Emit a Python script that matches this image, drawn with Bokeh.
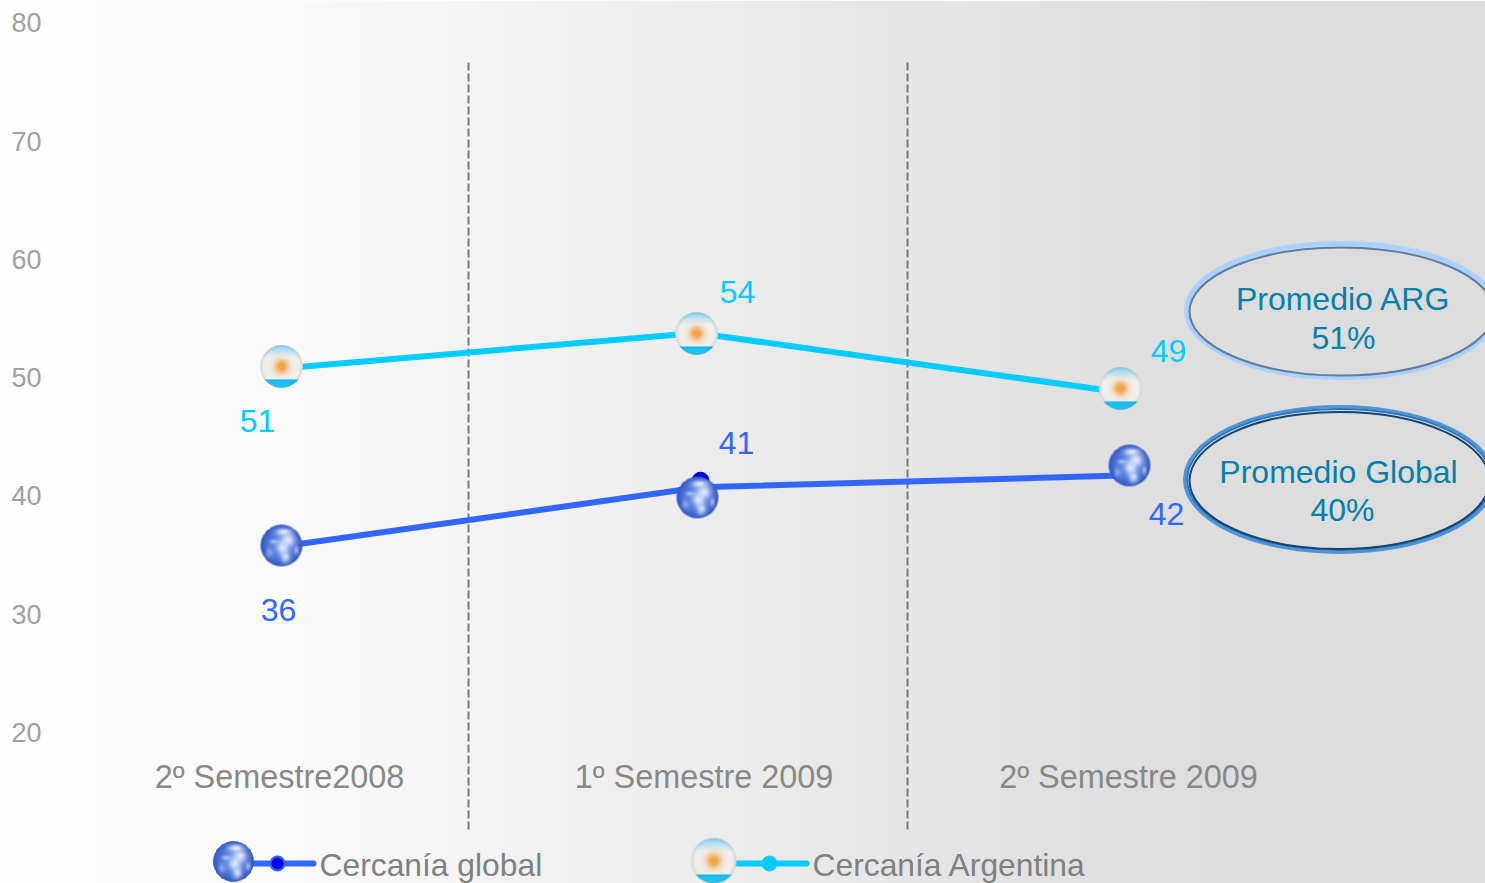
import numpy as np
from bokeh.plotting import figure
from bokeh.models import Range1d, LinearAxis, FixedTicker
from bokeh.core.properties import value
from bokeh.embed import file_html
from bokeh.resources import INLINE

categories = ["2º Semestre2008", "1º Semestre 2009", "2º Semestre 2009"]
global_values = [36, 41, 42]
argentina_values = [51, 54, 49]
y_ticks = [20, 30, 40, 50, 60, 70, 80]
promedio_labels = [["Promedio ARG", "51%"], ["Promedio Global", "40%"]]
legend_labels = ["Cercanía global", "Cercanía Argentina"]

FONT = value("Liberation Sans")
W, H = 1485, 883


# category / value scale (page pixels)
def X(px):
    return (np.asarray(px, dtype=float) - 279.0) / 424.5


def Y(py):
    return 20 + (736.0 - np.asarray(py, dtype=float)) / 11.87


p = figure(width=W, height=H, output_backend="svg", toolbar_location=None,
           x_axis_type=None, y_axis_type=None, min_border=0,
           x_range=Range1d(float(X(0)), float(X(W))),
           y_range=Range1d(float(Y(H)), float(Y(0))))
p.grid.visible = False
p.outline_line_color = None
# the reference's tick labels sit slightly above their tick marks
p.extra_y_ranges = {"labels": Range1d(20 + (732 - H) / 11.83, 20 + 732 / 11.83)}

# background gradient
stops_x = [0, 100, 300, 500, 740, 1000, 1200, 1485]
stops_v = [255, 253, 250, 243, 236, 227, 222, 220]
cols = np.arange(0, 1485, 3)
grey = np.interp(cols, stops_x, stops_v).astype(np.uint32)
bg = (255 << 24 | grey << 16 | grey << 8 | grey).reshape(1, -1).astype(np.uint32)
p.image_rgba(image=[bg], x=[float(X(0))], y=[float(Y(883))],
             dw=[float(X(1485) - X(0))], dh=[float(Y(0) - Y(883))])


def soft(rr, r0=0.97, w=0.05):
    return np.clip((r0 - rr) / w, 0, 1)


def pack(c, alpha):
    c = np.clip(c, 0, 255).astype(np.uint32)
    a = (alpha * 255).astype(np.uint32)
    return (a << 24 | c[..., 2] << 16 | c[..., 1] << 8 | c[..., 0]).astype(np.uint32)


def flag_icon(n=96):
    g = (np.arange(n) + 0.5) / n * 2 - 1
    xx, yy = np.meshgrid(g, g)
    rr = np.hypot(xx, yy)
    c = np.zeros((n, n, 3))
    c[...] = [240, 240, 236]
    top = np.clip((-0.4 - yy) / 0.5, 0, 1)[..., None]
    c = c * (1 - top) + np.array([150, 215, 245]) * top
    band = np.clip((yy - 0.55) / 0.04, 0, 1)[..., None]
    bcol = np.ones((n, n, 3)) * np.array([25, 180, 240])
    bcol[..., 1] += np.clip((yy - 0.55) * 70, 0, 30)
    c = c * (1 - band) + bcol * band
    sun = np.clip(1.2 * np.exp(-(xx ** 2 + yy ** 2) / 0.09), 0, 1)[..., None]
    c = c * (1 - sun) + np.array([243, 165, 75]) * sun
    edge = np.clip((rr - 0.78) / 0.22, 0, 1)[..., None]
    c = c * (1 - 0.3 * edge) + np.array([125, 130, 135]) * 0.3 * edge
    return pack(c, soft(rr))


def globe_icon(n=96):
    g = (np.arange(n) + 0.5) / n * 2 - 1
    xx, yy = np.meshgrid(g, g)
    rr = np.hypot(xx, yy)
    t = np.clip(rr, 0, 1)[..., None] ** 1.5
    c = np.array([105, 150, 235]) * (1 - t) + np.array([45, 80, 190]) * t
    blobs = [(0.10, -0.62, 0.35, 0.16, 0.95), (0.30, -0.25, 0.30, 0.28, 0.95),
             (0.05, 0.10, 0.24, 0.26, 0.9), (0.18, 0.52, 0.20, 0.26, 0.85),
             (-0.35, -0.18, 0.18, 0.10, 0.55), (-0.55, 0.32, 0.14, 0.22, 0.4),
             (0.68, 0.22, 0.10, 0.18, 0.55)]
    for bx, by, sx, sy, a in blobs:
        m = (a * np.exp(-(((xx - bx) / sx) ** 2 + ((yy - by) / sy) ** 2)))[..., None]
        c = c * (1 - m) + np.array([232, 238, 255]) * m
    return pack(c, soft(rr))


FLAG, GLOBE = flag_icon(), globe_icon()


def icon(img, px, py, size):
    p.image_rgba(image=[img], x=[float(X(px))], y=[float(Y(py))], dw=[size], dh=[size],
                 dw_units="screen", dh_units="screen", anchor="center", origin="top_left")


# axis: pale marks on the value scale, labels on the slightly shifted one
p.segment(x0=[float(X(65))], x1=[float(X(65))], y0=[min(y_ticks)], y1=[max(y_ticks)],
          line_color="#fffff0", line_width=1.5)
p.segment(x0=[float(X(57))] * len(y_ticks), x1=[float(X(65))] * len(y_ticks), y0=y_ticks, y1=y_ticks,
          line_color="#fffff0", line_width=1.5)
ylabels = LinearAxis(fixed_location=float(X(65)), y_range_name="labels", ticker=FixedTicker(ticks=y_ticks),
                     axis_line_color=None, major_tick_line_color=None,
                     major_tick_in=0, major_tick_out=8, minor_tick_line_color=None,
                     major_label_text_color="#a0a0a0", major_label_text_font="Liberation Sans",
                     major_label_text_font_size="27px", major_label_standoff=16)
p.add_layout(ylabels, "left")

xaxis = LinearAxis(fixed_location=float(Y(752)), ticker=FixedTicker(ticks=[0, 1, 2]),
                   major_label_overrides={i: c for i, c in enumerate(categories)},
                   axis_line_color=None, major_tick_line_color=None, minor_tick_line_color=None,
                   major_label_text_color="#888888", major_label_text_font="Liberation Sans",
                   major_label_text_font_size="32.4px", major_label_standoff=0)
p.add_layout(xaxis, "below")

# separators
for px in (468, 907):
    p.segment(x0=[float(X(px))], x1=[float(X(px))], y0=[float(Y(62))], y1=[float(Y(830))],
              line_color="#7a7a7a", line_width=2, line_dash="8 3")

# series
glob_x = [float(X(281)), float(X(700)), float(X(1129))]
arg_x = [float(X(281)), float(X(696)), float(X(1120))]
p.line(arg_x, argentina_values, line_color="#00ccff", line_width=6)
p.line(glob_x, global_values, line_color="#3366ff", line_width=6)
p.scatter([glob_x[1]], [global_values[1] + 0.55], size=17, marker="circle",
          fill_color="#0000ee", line_color="#0000ee")

for px, py in zip((281, 696, 1120), (366, 333, 388)):
    icon(FLAG, px, py, 45)
for px, py in zip((281, 697, 1129), (545, 497, 465)):
    icon(GLOBE, px, py, 44)


def label(txt, px, py, color, size="30px", align="center"):
    p.text([float(X(px))], [float(Y(py))], text=[txt], text_color=color, text_font=FONT,
           text_font_size=size, text_align=align, text_baseline="middle")


# value labels
for v, px, py in zip(argentina_values, (257, 737, 1168), (420, 291, 350)):
    label(str(v), px, py, "#00ccff", "32px")
for v, px, py in zip(global_values, (278, 736, 1166), (609, 442, 513)):
    label(str(v), px, py, "#3366ff", "32px")


def ring(cx, cy, w, h, color, lw):
    p.ellipse([float(X(cx))], [float(Y(cy))], width=[w], height=[h], width_units="screen",
              height_units="screen", fill_alpha=0, line_color=color, line_width=lw)


# promedio ellipses
ring(1341, 310, 310, 134, "#a9d1fb", 5)
ring(1341, 311, 304, 128, "#5f7d9c", 2)
ring(1339, 479, 310, 146, "#4d94d8", 3)
ring(1339, 479, 305, 141, "#2a74bd", 2)
ring(1339, 480, 300, 137, "#14456f", 2)

label(promedio_labels[0][0], 1343, 298, "#0481ab", "32px")
label(promedio_labels[0][1], 1343, 337, "#0481ab", "32px")
label(promedio_labels[1][0], 1338, 471, "#0481ab", "32px")
label(promedio_labels[1][1], 1342, 509, "#0481ab", "32px")

# legend
p.line([float(X(240)), float(X(313))], [float(Y(863))] * 2, line_color="#3366ff", line_width=6, line_cap="round")
p.scatter([float(X(277))], [float(Y(863))], size=14, fill_color="#0000ee", line_color="#3366ff", line_width=2)
icon(GLOBE, 233, 861, 43)
label(legend_labels[0], 319, 864, "#808080", "31.8px", "left")

p.line([float(X(735)), float(X(806))], [float(Y(863))] * 2, line_color="#00ccff", line_width=6, line_cap="round")
p.scatter([float(X(769))], [float(Y(863))], size=15, fill_color="#00ccff", line_color="#00ccff")
icon(FLAG, 713, 860, 48)
label(legend_labels[1], 812, 864, "#808080", "31.8px", "left")

open("out.html", "w").write(file_html(p, INLINE))
